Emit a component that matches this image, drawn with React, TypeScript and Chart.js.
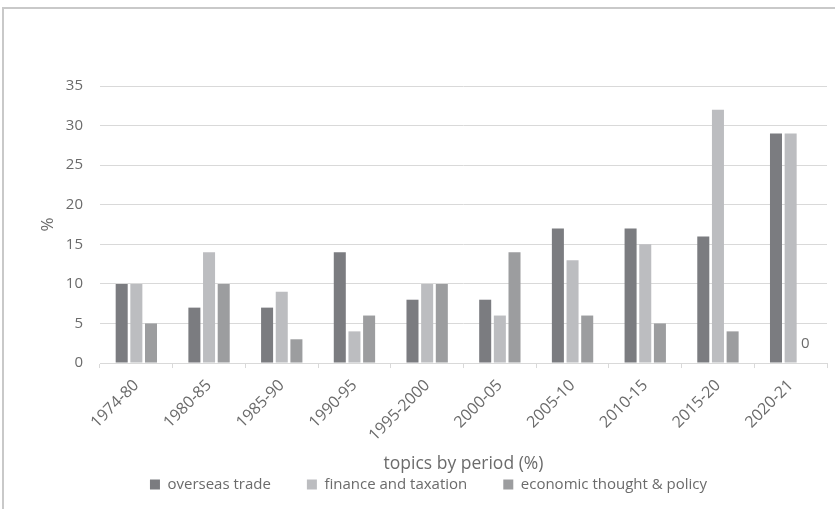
import React, { useEffect, useRef } from "react";
import { Chart, registerables } from "chart.js";

Chart.register(...registerables);

const categories = ["1974-80", "1980-85", "1985-90", "1990-95", "1995-2000", "2000-05", "2005-10", "2010-15", "2015-20", "2020-21"];
const seriesNames = ["overseas trade", "finance and taxation", "economic thought & policy"];
const overseasTrade = [10, 7, 7, 14, 8, 8, 17, 17, 16, 29];
const financeTaxation = [10, 14, 9, 4, 10, 6, 13, 15, 32, 29];
const economicThought = [5, 10, 3, 6, 10, 14, 6, 5, 4, 0];
const seriesColors = ["#7b7c80", "#bcbdc0", "#9c9d9f"];
const yTicks = [0, 5, 10, 15, 20, 25, 30, 35];

const TEXT = "#6b6b6b";
const FONT = "'Open Sans', sans-serif";

const zeroLabelPlugin = {
  id: "zeroLabel",
  afterDatasetsDraw(chart: any) {
    const ctx = chart.ctx;
    ctx.save();
    ctx.font = `15px ${FONT}`;
    ctx.fillStyle = TEXT;
    ctx.textAlign = "center";
    ctx.textBaseline = "middle";
    chart.data.datasets.forEach((ds: any, di: number) => {
      const meta = chart.getDatasetMeta(di);
      ds.data.forEach((v: number, i: number) => {
        if (v === 0) {
          const el = meta.data[i];
          ctx.fillText("0", el.x, el.y - 19);
        }
      });
    });
    ctx.restore();
  },
};

export default function App() {
  const ref = useRef<HTMLCanvasElement>(null);
  useEffect(() => {
    if (!ref.current) return;
    const data = [overseasTrade, financeTaxation, economicThought];
    const chart = new Chart(ref.current, {
      type: "bar",
      data: {
        labels: categories,
        datasets: seriesNames.map((name, i) => ({
          label: name,
          data: data[i],
          backgroundColor: seriesColors[i],
          borderWidth: 0,
          barPercentage: 0.82,
          categoryPercentage: 0.605,
        })),
      },
      plugins: [zeroLabelPlugin],
      options: {
        animation: false,
        responsive: false,
        layout: { padding: { left: 30, right: 15, top: 86, bottom: 7 } },
        plugins: {
          legend: {
            position: "bottom",
            labels: {
              boxWidth: 10,
              boxHeight: 10,
              padding: 36,
              color: TEXT,
              font: { family: FONT, size: 15 },
            },
          },
          tooltip: { enabled: false },
        },
        scales: {
          x: {
            afterFit: (axis: any) => {
              axis.paddingLeft = 0;
              axis.paddingRight = 0;
            },
            grid: {
              drawOnChartArea: false,
              drawTicks: true,
              tickLength: 5,
              color: "#d9d9d9",
              offset: true,
            },
            border: { color: "#d9d9d9" },
            ticks: {
              color: TEXT,
              font: { family: FONT, size: 16 },
              maxRotation: 45,
              minRotation: 45,
              padding: 8,
            },
            title: {
              display: true,
              text: "topics by period (%)",
              color: TEXT,
              font: { family: FONT, size: 17.5 },
              padding: { top: 1, bottom: -34 },
            },
          },
          y: {
            min: 0,
            max: 35,
            afterBuildTicks: (axis: any) => {
              axis.ticks = yTicks.map((v) => ({ value: v }));
            },
            afterFit: (axis: any) => {
              axis.width = 70;
            },
            grid: { color: "#d9d9d9", drawTicks: false },
            border: { display: false },
            ticks: {
              color: TEXT,
              font: { family: FONT, size: 15 },
              padding: 17,
            },
            title: {
              display: true,
              text: "%",
              color: TEXT,
              font: { family: FONT, size: 17 },
              padding: { top: 8, bottom: 8 },
            },
          },
        },
      },
    } as any);
    return () => chart.destroy();
  }, []);

  return (
    <div style={{ position: "fixed", left: 0, top: 0, width: 835, height: 509, overflow: "hidden", background: "#fff" }}>
      <div
        style={{
          position: "absolute",
          left: 2,
          top: 7,
          width: 900,
          height: 600,
          borderTop: "2px solid #c9c9c9",
          borderLeft: "2px solid #c9c9c9",
        }}
      />
      <canvas ref={ref} width={842} height={509} style={{ position: "absolute", left: 0, top: 0 }} />
    </div>
  );
}
